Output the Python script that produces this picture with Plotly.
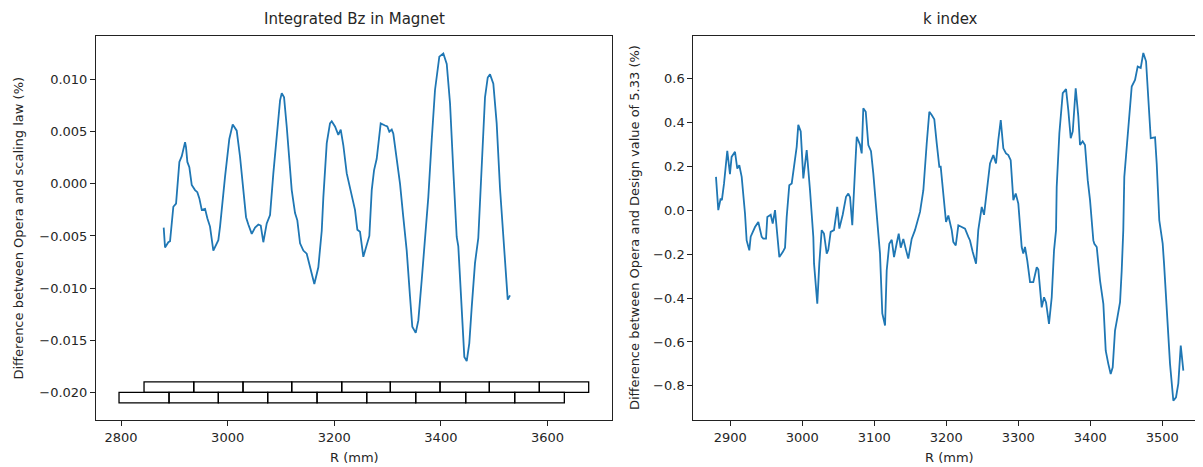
import plotly.graph_objects as go

# ---------------- data: Integrated Bz in Magnet ----------------
bz_r = [2880.0, 2882.5, 2888.7, 2891.9, 2898.1, 2903.2, 2909.4, 2913.9, 2920.1, 2921.9,
        2924.4, 2928.1, 2932.6, 2938.8, 2943.1, 2946.9, 2951.4, 2957.6, 2961.9, 2966.9,
        2972.0, 2973.1, 2982.5, 2985.7, 2995.1, 3003.1, 3009.5, 3017.0, 3023.2, 3029.4,
        3034.5, 3038.8, 3045.2, 3051.4, 3057.6, 3062.1, 3066.9, 3073.3, 3079.5, 3085.7,
        3092.1, 3098.3, 3101.5, 3105.8, 3110.8, 3120.2, 3126.4, 3130.7, 3135.8, 3142.0,
        3148.3, 3154.5, 3162.6, 3170.1, 3176.5, 3179.5, 3185.9, 3192.0, 3195.2, 3201.4,
        3207.6, 3212.1, 3217.0, 3223.4, 3228.3, 3232.7, 3238.9, 3243.3, 3248.3, 3254.5,
        3260.9, 3265.8, 3270.3, 3274.6, 3279.6, 3287.1, 3295.2, 3299.5, 3303.3, 3307.8,
        3310.8, 3317.2, 3323.4, 3329.5, 3335.9, 3342.1, 3346.4, 3352.8, 3357.7, 3364.1,
        3370.2, 3376.4, 3382.8, 3389.0, 3397.1, 3404.6, 3411.0, 3417.2, 3423.3, 3429.7,
        3432.7, 3439.1, 3444.0, 3448.5, 3453.3, 3457.9, 3464.0, 3470.2, 3476.6, 3482.8,
        3487.9, 3492.2, 3498.4, 3504.7, 3510.9, 3517.1, 3520.3, 3523.5, 3525.4, 3529.7]
bz_diff = [-0.0042, -0.0061, -0.0056, -0.0055, -0.0022, -0.0019, 0.0021, 0.00265, 0.0040, 0.0035,
           0.0021, 0.0016, -0.0001, -0.0006, -0.0008, -0.0014, -0.0025, -0.0024, -0.0033, -0.0041,
           -0.0060, -0.0064, -0.0054, -0.0041, 0.0007, 0.0043, 0.0057, 0.0051, 0.0026, -0.0006,
           -0.0032, -0.0039, -0.0048, -0.0042, -0.0039, -0.0040, -0.0056, -0.0038, -0.0030, 0.0010,
           0.0045, 0.0080, 0.0087, 0.0083, 0.0055, -0.0006, -0.0028, -0.0035, -0.0057, -0.0064,
           -0.0067, -0.0080, -0.0096, -0.0080, -0.0045, -0.0013, 0.0039, 0.0058, 0.0060, 0.0055,
           0.0047, 0.0052, 0.0037, 0.0010, -0.0001, -0.0009, -0.0025, -0.0044, -0.0046, -0.0070,
           -0.0059, -0.0050, -0.0006, 0.0013, 0.0024, 0.0058, 0.0056, 0.0055, 0.0050, 0.0052,
           0.0048, 0.0026, 0.0000, -0.0032, -0.0064, -0.0108, -0.0137, -0.0143, -0.0131, -0.0092,
           -0.0052, -0.0013, 0.0042, 0.0090, 0.0122, 0.0125, 0.0115, 0.0077, 0.0013, -0.0051,
           -0.0060, -0.0124, -0.0166, -0.0170, -0.0153, -0.0118, -0.0076, -0.0052, 0.0013, 0.0083,
           0.0102, 0.0105, 0.0096, 0.0058, -0.0004, -0.0051, -0.0068, -0.0092, -0.0111, -0.0107]

# magnet block edges (mm) for the two rows drawn at the bottom of the left panel
magnet_lower_edges = [2796.2, 2890.0, 2982.5, 3075.1, 3167.7, 3260.9, 3352.8, 3446.6, 3538.5, 3631.6]
magnet_upper_edges = [2843.1, 2936.4, 3028.8, 3120.2, 3214.0, 3305.2, 3398.4, 3490.9, 3584.7, 3677.3]
magnet_lower_y = [-0.021, -0.020]
magnet_upper_y = [-0.020, -0.019]

# ---------------- data: k index ----------------
k_r = [2880.1, 2883.3, 2886.6, 2888.3, 2891.3, 2895.8, 2899.5, 2901.8, 2906.5, 2909.7,
       2912.5, 2915.8, 2920.4, 2922.7, 2926.4, 2928.3, 2934.3, 2938.9, 2943.6, 2945.8,
       2949.6, 2951.4, 2956.1, 2958.9, 2962.1, 2965.3, 2968.1, 2972.8, 2976.0, 2978.3,
       2981.9, 2985.3, 2992.2, 2994.4, 2997.8, 3001.4, 3006.1, 3010.7, 3015.3, 3016.3,
       3019.0, 3020.8, 3023.6, 3026.9, 3030.1, 3033.9, 3036.1, 3038.5, 3039.4, 3044.0,
       3048.6, 3051.4, 3056.1, 3060.7, 3063.9, 3066.3, 3069.4, 3073.2, 3075.6, 3080.1,
       3082.5, 3084.7, 3088.1, 3091.7, 3095.4, 3098.6, 3103.3, 3105.6, 3107.9, 3111.1,
       3114.9, 3117.2, 3120.8, 3124.2, 3127.4, 3131.1, 3133.9, 3136.7, 3140.3, 3144.0,
       3147.2, 3151.9, 3156.5, 3163.5, 3168.1, 3172.8, 3176.4, 3179.7, 3183.3, 3186.7,
       3190.3, 3192.2, 3195.8, 3199.6, 3202.8, 3207.5, 3209.7, 3213.1, 3216.7, 3221.4,
       3226.0, 3230.6, 3232.9, 3236.7, 3241.3, 3244.4, 3245.8, 3249.2, 3252.4, 3256.1,
       3260.7, 3265.3, 3269.0, 3272.2, 3275.6, 3279.2, 3282.9, 3286.1, 3289.4, 3293.1,
       3296.4, 3300.0, 3304.7, 3306.9, 3309.3, 3312.5, 3316.3, 3320.8, 3325.6, 3327.8,
       3332.5, 3335.7, 3338.5, 3342.6, 3346.4, 3349.6, 3352.4, 3353.3, 3357.0, 3361.7,
       3366.3, 3369.4, 3372.8, 3375.6, 3379.7, 3383.3, 3385.7, 3389.4, 3392.6, 3396.4,
       3399.6, 3404.2, 3405.6, 3408.9, 3413.5, 3418.1, 3421.4, 3425.0, 3428.3, 3431.1,
       3434.3, 3437.5, 3441.3, 3443.6, 3445.8, 3447.2, 3451.4, 3457.5, 3462.1, 3465.8,
       3470.0, 3473.6, 3477.4, 3480.6, 3483.9, 3489.9, 3492.2, 3495.8, 3500.5, 3502.4,
       3506.1, 3510.7, 3515.3, 3519.0, 3522.2, 3525.6, 3529.2]
k_diff = [0.153, 0.001, 0.054, 0.047, 0.123, 0.272, 0.165, 0.244, 0.267, 0.191,
          0.206, 0.153, -0.014, -0.137, -0.182, -0.120, -0.076, -0.053, -0.121, -0.129,
          -0.129, -0.030, -0.020, -0.060, 0.001, -0.100, -0.213, -0.190, -0.170, -0.030,
          0.115, 0.123, 0.290, 0.390, 0.360, 0.146, 0.275, 0.092, -0.121, -0.243,
          -0.365, -0.426, -0.243, -0.090, -0.106, -0.197, -0.180, -0.120, -0.098, -0.090,
          0.016, -0.083, -0.020, 0.062, 0.077, 0.060, -0.068, 0.184, 0.336, 0.300,
          0.260, 0.466, 0.450, 0.298, 0.270, 0.169, 0.001, -0.090, -0.197, -0.470,
          -0.525, -0.274, -0.152, -0.134, -0.213, -0.150, -0.106, -0.170, -0.130, -0.180,
          -0.220, -0.130, -0.090, -0.007, 0.092, 0.306, 0.450, 0.435, 0.416, 0.306,
          0.199, 0.199, 0.062, -0.053, -0.023, -0.090, -0.144, -0.160, -0.068, -0.076,
          -0.083, -0.121, -0.137, -0.190, -0.243, -0.090, -0.060, 0.016, -0.020, 0.092,
          0.214, 0.252, 0.214, 0.321, 0.412, 0.283, 0.260, 0.252, 0.229, 0.047,
          0.077, 0.031, -0.167, -0.197, -0.167, -0.230, -0.327, -0.327, -0.259, -0.270,
          -0.442, -0.396, -0.420, -0.518, -0.396, -0.182, -0.090, 0.107, 0.352, 0.535,
          0.553, 0.458, 0.329, 0.360, 0.557, 0.430, 0.298, 0.315, 0.298, 0.138,
          0.047, -0.137, -0.152, -0.167, -0.320, -0.426, -0.640, -0.700, -0.746, -0.716,
          -0.548, -0.490, -0.419, -0.274, -0.090, 0.153, 0.336, 0.565, 0.595, 0.656,
          0.650, 0.718, 0.680, 0.519, 0.329, 0.333, 0.214, -0.045, -0.152, -0.243,
          -0.472, -0.700, -0.868, -0.853, -0.790, -0.617, -0.731]

LINE_COLOR = "#1f77b4"
FONT = "DejaVu Sans"
TXT = "#262626"

# the page body has an 8px margin; the figure is sized and laid out to fill the
# remaining 1195x459 so that everything lands where it sits in the reference
OFF = 8
W, H = 1203 - OFF, 467 - OFF


def px(x):
    return (x - OFF) / W


def py(y):
    return 1 - (y - OFF) / H


fig = go.Figure()
fig.add_trace(go.Scatter(x=bz_r, y=bz_diff, mode="lines",
                         line=dict(color=LINE_COLOR, width=1.8), xaxis="x", yaxis="y",
                         showlegend=False, hoverinfo="skip"))
fig.add_trace(go.Scatter(x=k_r, y=k_diff, mode="lines",
                         line=dict(color=LINE_COLOR, width=1.8), xaxis="x2", yaxis="y2",
                         showlegend=False, hoverinfo="skip"))

shapes = []
for edges, ys in ((magnet_lower_edges, magnet_lower_y), (magnet_upper_edges, magnet_upper_y)):
    for a, b in zip(edges[:-1], edges[1:]):
        shapes.append(dict(type="rect", xref="x", yref="y", x0=a, x1=b, y0=ys[0], y1=ys[1],
                           line=dict(color="black", width=1.3), fillcolor="rgba(0,0,0,0)"))

axis_common = dict(showgrid=False, zeroline=False, showline=True, linecolor="#222",
                   linewidth=1, ticks="outside", ticklen=5, tickwidth=1, tickcolor="#222",
                   tickfont=dict(family=FONT, size=13, color=TXT), automargin=False)

fig.update_layout(
    width=W, height=H,
    margin=dict(l=0, r=0, t=0, b=0),
    paper_bgcolor="white", plot_bgcolor="white",
    template="none",
    shapes=shapes,
    xaxis=dict(domain=[px(96), px(612.3)], range=[2753, 3721.6], dtick=200, tick0=0,
               mirror=True, anchor="y", **axis_common),
    yaxis=dict(domain=[py(420), py(36.3)], range=[-0.02265, 0.01415], dtick=0.005, tick0=0,
               tickformat=".3f", mirror=True, anchor="x", **axis_common),
    xaxis2=dict(domain=[px(693.3), 1.0], range=[2848.6, 3556.5], dtick=100, tick0=0,
                mirror=True, anchor="y2", **axis_common),
    yaxis2=dict(domain=[py(420), py(36.3)], range=[-0.956, 0.794], dtick=0.2, tick0=0,
                tickformat=".1f", mirror=False, anchor="x2", **axis_common),
    annotations=[
        dict(text="Integrated Bz in Magnet", xref="paper", yref="paper",
             x=px(354.2), y=py(8.3), xanchor="center", yanchor="top", showarrow=False,
             font=dict(family=FONT, size=15, color=TXT)),
        dict(text="k index", xref="paper", yref="paper",
             x=px(950), y=py(8.3), xanchor="center", yanchor="top", showarrow=False,
             font=dict(family=FONT, size=15, color=TXT)),
        dict(text="R (mm)", xref="paper", yref="paper",
             x=px(354), y=py(457.5), xanchor="center", yanchor="middle", showarrow=False,
             font=dict(family=FONT, size=13, color=TXT)),
        dict(text="R (mm)", xref="paper", yref="paper",
             x=px(949.5), y=py(457), xanchor="center", yanchor="middle", showarrow=False,
             font=dict(family=FONT, size=13, color=TXT)),
        dict(text="Difference between Opera and scaling law (%)", xref="paper", yref="paper",
             x=px(17.5), y=py(228), xanchor="center", yanchor="middle", showarrow=False,
             textangle=-90, font=dict(family=FONT, size=13, color=TXT)),
        dict(text="Difference between Opera and Design value of 5.33 (%)", xref="paper",
             yref="paper", x=px(634), y=py(228), xanchor="center", yanchor="middle",
             showarrow=False, textangle=-90, font=dict(family=FONT, size=13, color=TXT)),
    ],
)

fig.write_html("out.html")
